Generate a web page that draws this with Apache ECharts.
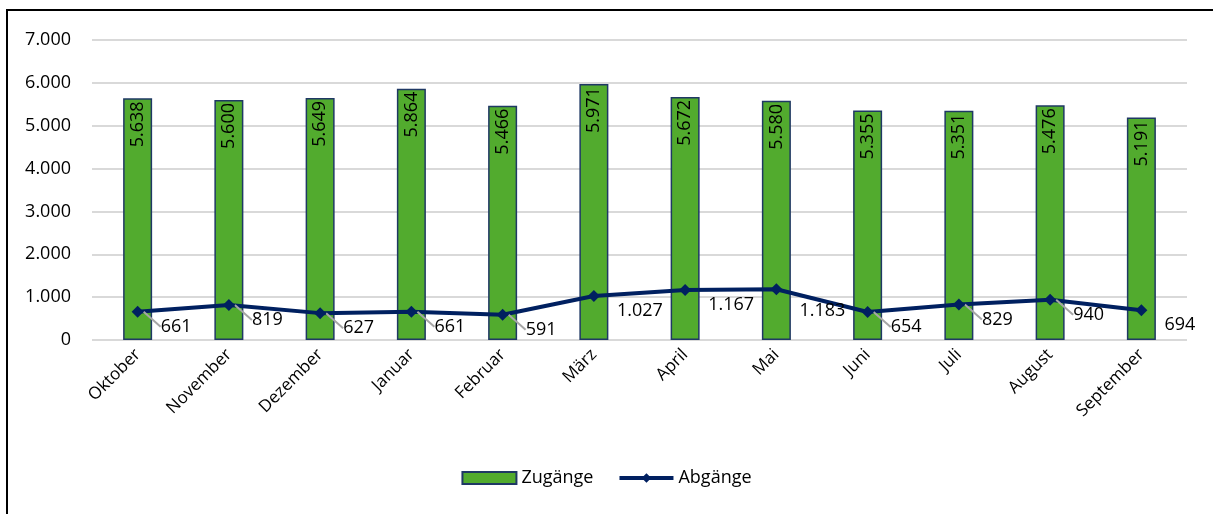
<!DOCTYPE html>
<html>
<head>
<meta charset="utf-8">
<script src="https://cdn.jsdelivr.net/npm/echarts@6/dist/echarts.min.js"></script>
<style>
html,body{margin:0;padding:0;background:#fff;}
#c{width:1213px;height:514px;}
</style>
</head>
<body>
<div id="c"></div>
<script>
var categories = ["Oktober","November","Dezember","Januar","Februar","März","April","Mai","Juni","Juli","August","September"];
var zugaenge = [5638,5600,5649,5864,5466,5971,5672,5580,5355,5351,5476,5191];
var abgaenge = [661,819,627,661,591,1027,1167,1183,654,829,940,694];
var yTicks = [0,1000,2000,3000,4000,5000,6000,7000];

function fmt(v){ return String(v).replace(/\B(?=(\d{3})+(?!\d))/g, "."); }
var FONT = '"Open Sans", "Noto Sans", sans-serif';
var noLeader = {5:1,6:1,7:1,11:1};

var lineData = abgaenge.map(function(v,i){
  return noLeader[i] ? {value:v, labelLine:{show:false}} : {value:v};
});

var chart = echarts.init(document.getElementById('c'), null, {renderer:'canvas'});
chart.setOption({
  animation:false,
  textStyle:{fontFamily:FONT},
  graphic:[{type:'rect', shape:{x:7,y:10,width:1240,height:540}, style:{fill:'none', stroke:'#000', lineWidth:2}, silent:true}],
  grid:{left:92,right:26,top:40,bottom:174},
  legend:{
    bottom:22, left:'center', itemGap:24, itemWidth:54, itemHeight:12,
    textStyle:{fontFamily:FONT,fontSize:18,color:'#000'},
    data:[{name:'Zugänge', icon:'rect'},{name:'Abgänge', lineStyle:{width:4}, itemStyle:{color:'#002060'}}]
  },
  xAxis:{
    type:'category', data:categories,
    axisLine:{show:false}, axisTick:{show:false},
    axisLabel:{rotate:45, fontSize:17, color:'#000', margin:12, interval:0, fontFamily:FONT}
  },
  yAxis:{
    type:'value', min:0, max:7000, interval:1000,
    axisLine:{show:false}, axisTick:{show:false},
    splitLine:{lineStyle:{color:'#d9d9d9', width:2}},
    axisLabel:{fontSize:18, color:'#000', margin:21, fontFamily:FONT, formatter:function(v){return fmt(v);}}
  },
  series:[
    {
      name:'Zugänge', type:'bar', data:zugaenge, barWidth:29,
      itemStyle:{color:'#52AB2E', borderColor:'#1F3864', borderWidth:1.5},
      label:{show:true, position:'insideTop', rotate:90, align:'right', verticalAlign:'middle', distance:3,
        fontSize:18, color:'#000', fontFamily:FONT, formatter:function(p){return fmt(p.value);}}
    },
    {
      name:'Abgänge', type:'line', data:lineData,
      symbol:'diamond', symbolSize:12,
      lineStyle:{color:'#002060', width:4},
      itemStyle:{color:'#002060'},
      label:{show:true, position:'right', distance:4, fontSize:18, color:'#000', fontFamily:FONT,
        formatter:function(p){return fmt(p.value);}},
      labelLine:{show:true, lineStyle:{color:'#a6a6a6', width:2}},
      labelLayout:function(p){ return {dx:13, dy:p.dataIndex===7 ? 22 : 15}; }
    }
  ]
});
</script>
</body>
</html>
